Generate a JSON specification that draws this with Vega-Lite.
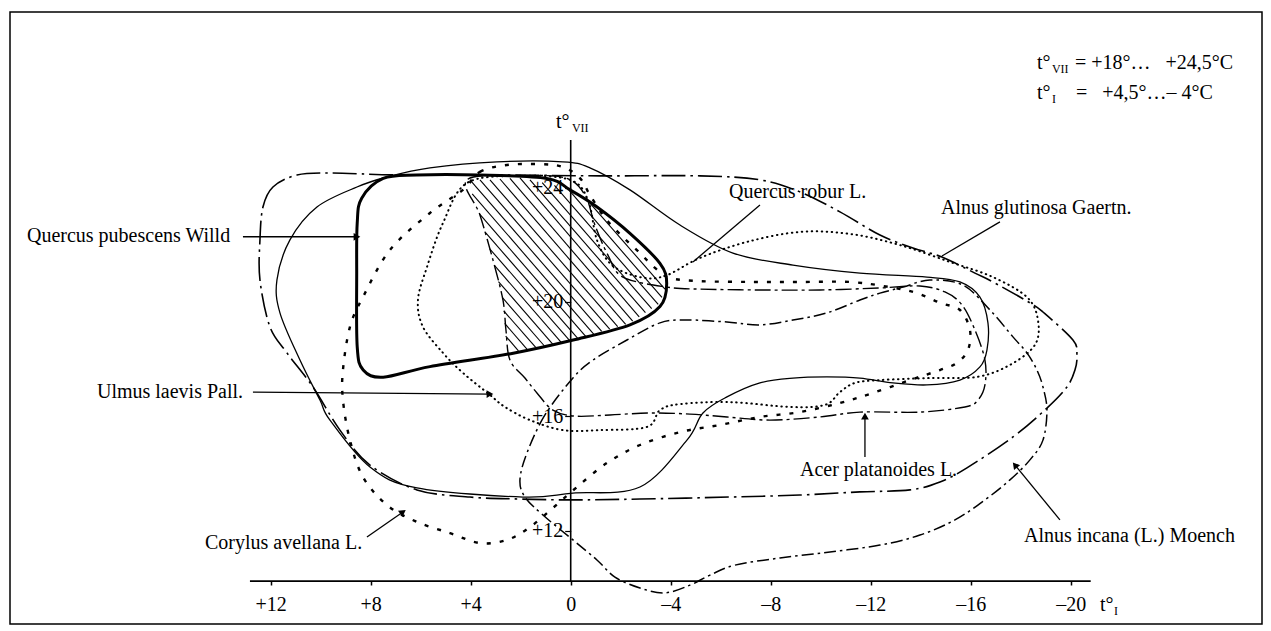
{
  "$schema": "https://vega.github.io/schema/vega-lite/v6.json",
  "width": 1252,
  "height": 612,
  "autosize": "none",
  "padding": {"left": 10, "top": 12, "right": 9, "bottom": 7},
  "background": "white",
  "config": {"view": {"stroke": "black", "strokeWidth": 1.5}, "font": "Liberation Serif"},
  "datasets": {
    "qp": [
      {"i":0,"tI":8.36,"tVII":23.63},{"i":1,"tI":7.50,"tVII":24.32},{"i":2,"tI":6.16,"tVII":24.44},{"i":3,"tI":3.63,"tVII":24.44},
      {"i":4,"tI":0.96,"tVII":24.32},{"i":5,"tI":0.03,"tVII":23.92},{"i":6,"tI":-1.04,"tVII":23.33},{"i":7,"tI":-2.37,"tVII":22.40},
      {"i":8,"tI":-3.57,"tVII":21.35},{"i":9,"tI":-3.84,"tVII":20.65},{"i":10,"tI":-3.57,"tVII":19.84},{"i":11,"tI":-2.37,"tVII":19.20},
      {"i":12,"tI":-0.10,"tVII":18.67},{"i":13,"tI":2.30,"tVII":18.21},{"i":14,"tI":5.63,"tVII":17.74},{"i":15,"tI":7.50,"tVII":17.37},
      {"i":16,"tI":8.30,"tVII":17.62},{"i":17,"tI":8.54,"tVII":18.44},{"i":18,"tI":8.56,"tVII":21.00},{"i":19,"tI":8.54,"tVII":22.75}
    ],
    "qr": [
      {"i":0,"tI":10.03,"tVII":16.57},{"i":1,"tI":10.83,"tVII":17.97},{"i":2,"tI":11.63,"tVII":19.62},{"i":3,"tI":11.75,"tVII":20.77},
      {"i":4,"tI":11.23,"tVII":22.17},{"i":5,"tI":10.15,"tVII":23.32},{"i":6,"tI":8.55,"tVII":24.02},{"i":7,"tI":7.35,"tVII":24.37},
      {"i":8,"tI":5.63,"tVII":24.69},{"i":9,"tI":2.95,"tVII":24.90},{"i":10,"tI":0.31,"tVII":24.90},{"i":11,"tI":-0.77,"tVII":24.69},
      {"i":12,"tI":-2.37,"tVII":23.92},{"i":13,"tI":-4.37,"tVII":22.69},{"i":14,"tI":-6.49,"tVII":21.71},{"i":15,"tI":-8.89,"tVII":21.29},
      {"i":16,"tI":-11.57,"tVII":21.01},{"i":17,"tI":-14.25,"tVII":20.87},{"i":18,"tI":-15.57,"tVII":20.70},{"i":19,"tI":-16.37,"tVII":20.17},
      {"i":20,"tI":-16.69,"tVII":19.27},{"i":21,"tI":-16.65,"tVII":18.32},{"i":22,"tI":-16.37,"tVII":17.73},{"i":23,"tI":-15.57,"tVII":17.27},
      {"i":24,"tI":-14.25,"tVII":17.10},{"i":25,"tI":-12.89,"tVII":17.17},{"i":26,"tI":-11.57,"tVII":17.34},{"i":27,"tI":-10.25,"tVII":17.38},
      {"i":28,"tI":-8.89,"tVII":17.34},{"i":29,"tI":-7.57,"tVII":17.17},{"i":30,"tI":-6.25,"tVII":16.68},{"i":31,"tI":-5.29,"tVII":16.12},
      {"i":32,"tI":-4.65,"tVII":15.17},{"i":33,"tI":-2.77,"tVII":13.53},{"i":34,"tI":-0.09,"tVII":13.32},{"i":35,"tI":1.91,"tVII":13.18},
      {"i":36,"tI":6.15,"tVII":13.50},{"i":37,"tI":8.03,"tVII":14.23},{"i":38,"tI":9.63,"tVII":15.87}
    ],
    "ag": [
      {"i":0,"tI":10.95,"tVII":24.44},{"i":1,"tI":11.91,"tVII":24.02},{"i":2,"tI":12.31,"tVII":23.32},{"i":3,"tI":12.43,"tVII":22.17},
      {"i":4,"tI":12.43,"tVII":20.77},{"i":5,"tI":12.03,"tVII":19.13},{"i":6,"tI":11.35,"tVII":18.22},{"i":7,"tI":10.31,"tVII":17.03},
      {"i":8,"tI":9.23,"tVII":15.52},{"i":9,"tI":8.03,"tVII":14.30},{"i":10,"tI":6.15,"tVII":13.43},{"i":11,"tI":4.03,"tVII":13.18},
      {"i":12,"tI":2.03,"tVII":13.11},{"i":13,"tI":-0.09,"tVII":13.08},{"i":14,"tI":-2.77,"tVII":13.11},{"i":15,"tI":-6.37,"tVII":13.18},
      {"i":16,"tI":-9.17,"tVII":13.25},{"i":17,"tI":-11.57,"tVII":13.36},{"i":18,"tI":-13.57,"tVII":13.43},{"i":19,"tI":-14.77,"tVII":13.71},
      {"i":20,"tI":-15.85,"tVII":14.20},{"i":21,"tI":-17.69,"tVII":15.28},{"i":22,"tI":-19.05,"tVII":16.29},{"i":23,"tI":-19.85,"tVII":17.03},
      {"i":24,"tI":-20.17,"tVII":17.62},{"i":25,"tI":-20.25,"tVII":18.15},{"i":26,"tI":-20.09,"tVII":18.67},{"i":27,"tI":-18.89,"tVII":19.65},
      {"i":28,"tI":-18.37,"tVII":19.97},{"i":29,"tI":-16.89,"tVII":20.70},{"i":30,"tI":-16.17,"tVII":21.01},{"i":31,"tI":-14.85,"tVII":21.57},
      {"i":32,"tI":-13.69,"tVII":21.89},{"i":33,"tI":-12.37,"tVII":22.34},{"i":34,"tI":-10.77,"tVII":23.15},{"i":35,"tI":-9.17,"tVII":23.85},
      {"i":36,"tI":-7.57,"tVII":24.27},{"i":37,"tI":-5.17,"tVII":24.41},{"i":38,"tI":-1.17,"tVII":24.41},{"i":39,"tI":2.83,"tVII":24.44},
      {"i":40,"tI":6.83,"tVII":24.44},{"i":41,"tI":9.63,"tVII":24.51}
    ],
    "ai": [
      {"i":0,"tI":-0.09,"tVII":17.34},{"i":1,"tI":1.03,"tVII":16.05},{"i":2,"tI":1.75,"tVII":14.72},{"i":3,"tI":2.03,"tVII":13.78},
      {"i":4,"tI":1.83,"tVII":13.18},{"i":5,"tI":1.11,"tVII":12.55},{"i":6,"tI":-0.09,"tVII":11.68},{"i":7,"tI":-1.05,"tVII":10.98},
      {"i":8,"tI":-1.77,"tVII":10.38},{"i":9,"tI":-2.77,"tVII":10.00},{"i":10,"tI":-3.77,"tVII":9.83},{"i":11,"tI":-4.77,"tVII":10.10},
      {"i":12,"tI":-5.57,"tVII":10.45},{"i":13,"tI":-6.57,"tVII":10.80},{"i":14,"tI":-8.37,"tVII":11.05},{"i":15,"tI":-10.37,"tVII":11.26},
      {"i":16,"tI":-12.37,"tVII":11.50},{"i":17,"tI":-13.97,"tVII":11.85},{"i":18,"tI":-15.37,"tVII":12.38},{"i":19,"tI":-16.57,"tVII":13.08},
      {"i":20,"tI":-17.57,"tVII":13.78},{"i":21,"tI":-18.37,"tVII":14.48},{"i":22,"tI":-18.89,"tVII":15.17},{"i":23,"tI":-19.05,"tVII":16.22},
      {"i":24,"tI":-18.89,"tVII":17.03},{"i":25,"tI":-18.65,"tVII":17.62},{"i":26,"tI":-18.25,"tVII":18.22},{"i":27,"tI":-17.69,"tVII":18.78},
      {"i":28,"tI":-16.77,"tVII":19.72},{"i":29,"tI":-15.69,"tVII":20.59},{"i":30,"tI":-14.37,"tVII":20.77},{"i":31,"tI":-13.29,"tVII":20.52},
      {"i":32,"tI":-12.37,"tVII":20.31},{"i":33,"tI":-11.57,"tVII":20.07},{"i":34,"tI":-10.25,"tVII":19.62},{"i":35,"tI":-8.89,"tVII":19.37},
      {"i":36,"tI":-7.57,"tVII":19.20},{"i":37,"tI":-6.25,"tVII":19.30},{"i":38,"tI":-4.65,"tVII":19.37},{"i":39,"tI":-3.57,"tVII":19.27},
      {"i":40,"tI":-2.25,"tVII":18.67},{"i":41,"tI":-0.89,"tVII":17.97}
    ],
    "ul": [
      {"i":0,"tI":4.15,"tVII":24.16},{"i":1,"tI":2.03,"tVII":24.41},{"i":2,"tI":0.03,"tVII":24.27},{"i":3,"tI":-0.69,"tVII":23.57},
      {"i":4,"tI":-1.05,"tVII":22.17},{"i":5,"tI":-1.65,"tVII":21.29},{"i":6,"tI":-2.77,"tVII":20.87},{"i":7,"tI":-3.77,"tVII":20.91},
      {"i":8,"tI":-5.17,"tVII":21.54},{"i":9,"tI":-7.05,"tVII":22.10},{"i":10,"tI":-9.17,"tVII":22.45},{"i":11,"tI":-11.17,"tVII":22.38},
      {"i":12,"tI":-13.17,"tVII":21.99},{"i":13,"tI":-15.17,"tVII":21.40},{"i":14,"tI":-16.89,"tVII":20.87},{"i":15,"tI":-18.25,"tVII":20.17},
      {"i":16,"tI":-18.69,"tVII":19.37},{"i":17,"tI":-18.57,"tVII":18.50},{"i":18,"tI":-17.57,"tVII":17.80},{"i":19,"tI":-16.25,"tVII":17.38},
      {"i":20,"tI":-14.37,"tVII":17.34},{"i":21,"tI":-12.37,"tVII":17.27},{"i":22,"tI":-11.37,"tVII":17.17},{"i":23,"tI":-10.77,"tVII":16.85},
      {"i":24,"tI":-10.17,"tVII":16.40},{"i":25,"tI":-8.77,"tVII":16.33},{"i":26,"tI":-6.37,"tVII":16.50},{"i":27,"tI":-4.37,"tVII":16.43},
      {"i":28,"tI":-3.57,"tVII":16.22},{"i":29,"tI":-3.05,"tVII":15.63},{"i":30,"tI":-1.17,"tVII":15.52},{"i":31,"tI":0.31,"tVII":15.52},
      {"i":32,"tI":1.63,"tVII":15.87},{"i":33,"tI":2.63,"tVII":16.33},{"i":34,"tI":3.23,"tVII":16.75},{"i":35,"tI":4.31,"tVII":17.52},
      {"i":36,"tI":5.11,"tVII":18.22},{"i":37,"tI":5.91,"tVII":19.13},{"i":38,"tI":6.11,"tVII":20.07},{"i":39,"tI":5.75,"tVII":21.22},
      {"i":40,"tI":5.11,"tVII":22.76}
    ],
    "ca": [
      {"i":0,"tI":4.31,"tVII":23.92},{"i":1,"tI":3.63,"tVII":24.55},{"i":2,"tI":2.55,"tVII":24.79},{"i":3,"tI":1.23,"tVII":24.82},
      {"i":4,"tI":0.31,"tVII":24.72},{"i":5,"tI":-0.37,"tVII":24.33},{"i":6,"tI":-0.77,"tVII":23.74},{"i":7,"tI":-1.37,"tVII":22.94},
      {"i":8,"tI":-2.09,"tVII":22.27},{"i":9,"tI":-2.77,"tVII":21.71},{"i":10,"tI":-3.37,"tVII":21.19},{"i":11,"tI":-3.97,"tVII":20.84},
      {"i":12,"tI":-5.17,"tVII":20.73},{"i":13,"tI":-7.17,"tVII":20.70},{"i":14,"tI":-9.17,"tVII":20.70},{"i":15,"tI":-11.17,"tVII":20.70},
      {"i":16,"tI":-12.77,"tVII":20.52},{"i":17,"tI":-13.85,"tVII":20.31},{"i":18,"tI":-14.77,"tVII":19.97},{"i":19,"tI":-15.57,"tVII":19.72},
      {"i":20,"tI":-15.97,"tVII":19.02},{"i":21,"tI":-15.89,"tVII":18.32},{"i":22,"tI":-15.45,"tVII":17.87},{"i":23,"tI":-14.77,"tVII":17.62},
      {"i":24,"tI":-13.57,"tVII":17.27},{"i":25,"tI":-12.09,"tVII":16.82},{"i":26,"tI":-10.77,"tVII":16.47},{"i":27,"tI":-9.17,"tVII":16.15},
      {"i":28,"tI":-7.57,"tVII":15.98},{"i":29,"tI":-5.97,"tVII":15.70},{"i":30,"tI":-4.37,"tVII":15.45},{"i":31,"tI":-2.77,"tVII":15.00},
      {"i":32,"tI":-1.45,"tVII":14.37},{"i":33,"tI":-0.25,"tVII":13.53},{"i":34,"tI":0.71,"tVII":12.80},{"i":35,"tI":1.63,"tVII":12.13},
      {"i":36,"tI":2.55,"tVII":11.68},{"i":37,"tI":3.63,"tVII":11.57},{"i":38,"tI":4.83,"tVII":11.92},{"i":39,"tI":6.15,"tVII":12.31},
      {"i":40,"tI":7.35,"tVII":12.90},{"i":41,"tI":8.31,"tVII":13.88},{"i":42,"tI":8.83,"tVII":15.17},{"i":43,"tI":9.11,"tVII":16.57},
      {"i":44,"tI":9.11,"tVII":17.62},{"i":45,"tI":8.83,"tVII":19.13},{"i":46,"tI":8.31,"tVII":20.17},{"i":47,"tI":7.23,"tVII":21.82},
      {"i":48,"tI":5.63,"tVII":23.11}
    ],
    "ap": [
      {"i":0,"tI":4.15,"tVII":24.27},{"i":1,"tI":2.03,"tVII":24.41},{"i":2,"tI":0.23,"tVII":24.34},{"i":3,"tI":-0.57,"tVII":23.74},
      {"i":4,"tI":-0.97,"tVII":22.69},{"i":5,"tI":-1.49,"tVII":21.64},{"i":6,"tI":-2.09,"tVII":20.87},{"i":7,"tI":-3.85,"tVII":20.52},
      {"i":8,"tI":-5.17,"tVII":20.45},{"i":9,"tI":-7.57,"tVII":20.42},{"i":10,"tI":-9.97,"tVII":20.42},{"i":11,"tI":-12.37,"tVII":20.49},
      {"i":12,"tI":-13.97,"tVII":20.56},{"i":13,"tI":-14.97,"tVII":20.35},{"i":14,"tI":-15.65,"tVII":19.90},{"i":15,"tI":-16.17,"tVII":19.02},
      {"i":16,"tI":-16.57,"tVII":17.97},{"i":17,"tI":-16.57,"tVII":17.10},{"i":18,"tI":-16.29,"tVII":16.57},{"i":19,"tI":-15.77,"tVII":16.33},
      {"i":20,"tI":-13.97,"tVII":16.15},{"i":21,"tI":-11.57,"tVII":16.15},{"i":22,"tI":-9.97,"tVII":15.98},{"i":23,"tI":-7.97,"tVII":15.87},
      {"i":24,"tI":-6.25,"tVII":15.98},{"i":25,"tI":-4.77,"tVII":16.08},{"i":26,"tI":-3.17,"tVII":16.12},{"i":27,"tI":-1.57,"tVII":16.05},
      {"i":28,"tI":-0.17,"tVII":16.01},{"i":29,"tI":0.71,"tVII":16.22},{"i":30,"tI":1.35,"tVII":16.82},{"i":31,"tI":1.83,"tVII":17.34},
      {"i":32,"tI":2.43,"tVII":17.97},{"i":33,"tI":2.59,"tVII":19.02},{"i":34,"tI":2.71,"tVII":20.07},{"i":35,"tI":3.11,"tVII":21.47},
      {"i":36,"tI":3.63,"tVII":23.04}
    ],
    "hatch": [
      {"tI":2.60,"tVII":18.81,"tI2":2.09,"tVII2":18.29},{"tI":2.64,"tVII":19.25,"tI2":1.75,"tVII2":18.35},
      {"tI":2.68,"tVII":19.69,"tI2":1.40,"tVII2":18.41},{"tI":2.73,"tVII":20.15,"tI2":1.06,"tVII2":18.47},
      {"tI":2.89,"tVII":20.71,"tI2":0.72,"tVII2":18.53},{"tI":3.05,"tVII":21.28,"tI2":0.38,"tVII2":18.59},
      {"tI":3.24,"tVII":21.86,"tI2":0.04,"tVII2":18.65},{"tI":3.44,"tVII":22.46,"tI2":-0.29,"tVII2":18.72},
      {"tI":3.64,"tVII":23.07,"tI2":-0.60,"tVII2":18.80},{"tI":3.94,"tVII":23.78,"tI2":-0.92,"tVII2":18.88},
      {"tI":4.03,"tVII":24.27,"tI2":-1.24,"tVII2":18.97},{"tI":3.63,"tVII":24.27,"tI2":-1.56,"tVII2":19.05},
      {"tI":3.23,"tVII":24.27,"tI2":-1.88,"tVII2":19.14},{"tI":2.83,"tVII":24.30,"tI2":-2.20,"tVII2":19.22},
      {"tI":2.43,"tVII":24.32,"tI2":-2.48,"tVII2":19.33},{"tI":2.03,"tVII":24.34,"tI2":-2.74,"tVII2":19.48},
      {"tI":1.63,"tVII":24.27,"tI2":-2.99,"tVII2":19.63},{"tI":1.14,"tVII":24.17,"tI2":-3.24,"tVII2":19.77},
      {"tI":0.65,"tVII":24.08,"tI2":-3.50,"tVII2":19.92},{"tI":0.05,"tVII":23.89,"tI2":-3.65,"tVII2":20.16},
      {"tI":-0.77,"tVII":23.46,"tI2":-3.77,"tVII2":20.45}
    ],
    "leaders": [
      {"name":"qp","tI":13.11,"tVII":22.28,"tI2":8.55,"tVII2":22.28},
      {"name":"qr","tI":-7.57,"tVII":23.39,"tI2":-4.89,"tVII2":21.40},
      {"name":"ag","tI":-17.17,"tVII":22.80,"tI2":-14.85,"tVII2":21.61},
      {"name":"ul","tI":12.71,"tVII":16.85,"tI2":3.23,"tVII2":16.78},
      {"name":"ca","tI":8.15,"tVII":11.78,"tI2":6.71,"tVII2":12.66},
      {"name":"ap","tI":-11.77,"tVII":14.58,"tI2":-11.77,"tVII2":16.01},
      {"name":"ai","tI":-19.57,"tVII":12.38,"tI2":-17.77,"tVII2":14.30}
    ],
    "arrows": [
      {"name":"qp","tI":8.55,"tVII":22.28},
      {"name":"ul","tI":3.23,"tVII":16.78},
      {"name":"ca","tI":6.71,"tVII":12.66},
      {"name":"ap","tI":-11.77,"tVII":16.01},
      {"name":"ai","tI":-17.77,"tVII":14.30}
    ],
    "axislines": [
      {"tI":12.83,"tVII":10.24,"tI2":-20.8,"tVII2":10.24},
      {"tI":0,"tVII":10.24,"tI2":0,"tVII2":25.66}
    ],
    "labels": [
      {"text":"Quercus pubescens Willd","tI":21.75,"tVII":22.31},
      {"text":"Quercus robur L.","tI":-6.33,"tVII":23.85},
      {"text":"Alnus glutinosa Gaertn.","tI":-14.81,"tVII":23.29},
      {"text":"Ulmus laevis Pall.","tI":18.95,"tVII":16.85},
      {"text":"Corylus avellana L.","tI":14.63,"tVII":11.57},
      {"text":"Acer platanoides L.","tI":-9.17,"tVII":14.13},
      {"text":"Alnus incana (L.) Moench","tI":-18.13,"tVII":11.82},
      {"text":"t°","tI":-18.65,"tVII":28.36},
      {"text":"= +18°…\u00a0\u00a0\u00a0+24,5°C","tI":-20.17,"tVII":28.36},
      {"text":"t°","tI":-18.65,"tVII":27.31},
      {"text":"=\u00a0\u00a0\u00a0+4,5°…– 4°C","tI":-20.21,"tVII":27.31},
      {"text":"t°","tI":0.59,"tVII":26.29},
      {"text":"t°","tI":-21.17,"tVII":9.41}
    ],
    "subs": [
      {"text":"VII","tI":-19.25,"tVII":28.16},
      {"text":"I","tI":-19.25,"tVII":27.11},
      {"text":"VII","tI":-0.05,"tVII":26.08},
      {"text":"I","tI":-21.73,"tVII":9.21}
    ]
  },
  "encoding": {
    "x": {"field": "tI", "type": "quantitative",
      "scale": {"domain": [22.428, -27.652], "nice": false, "zero": false},
      "axis": {"orient": "bottom", "offset": -43, "domain": false, "grid": false, "title": null,
        "values": [12, 8, 4, 0, -4, -8, -12, -16, -20], "tickSize": 4, "tickColor": "black", "tickWidth": 1.5,
        "labelExpr": "datum.value > 0 ? '+' + datum.value : (datum.value < 0 ? '–' + abs(datum.value) : '0')",
        "labelFont": "Liberation Serif", "labelFontSize": 20, "labelColor": "black", "labelPadding": 9,
        "labelOverlap": false, "labelFlush": false}},
    "y": {"field": "tVII", "type": "quantitative",
      "scale": {"domain": [8.741, 30.139], "nice": false, "zero": false},
      "axis": {"orient": "left", "offset": -560.7, "domain": false, "grid": false, "title": null,
        "values": [12, 16, 20, 24], "tickSize": 6, "tickColor": "black", "tickWidth": 1.2,
        "labelExpr": "'+' + datum.value",
        "labelFont": "Liberation Serif", "labelFontSize": 20, "labelColor": "black", "labelPadding": 2,
        "labelOverlap": false, "labelFlush": false}}
  },
  "layer": [
    {"data": {"name": "hatch"}, "mark": {"type": "rule", "stroke": "black", "strokeWidth": 1.1},
      "encoding": {"x2": {"field": "tI2"}, "y2": {"field": "tVII2"}}},
    {"data": {"name": "axislines"}, "mark": {"type": "rule", "stroke": "black", "strokeWidth": 1.6},
      "encoding": {"x2": {"field": "tI2"}, "y2": {"field": "tVII2"}}},
    {"data": {"name": "ag"}, "mark": {"type": "line", "interpolate": "cardinal-closed", "tension": 0, "stroke": "black", "strokeWidth": 1.6, "strokeDash": [24, 5, 2.5, 5]},
      "encoding": {"order": {"field": "i", "type": "quantitative"}}},
    {"data": {"name": "ai"}, "mark": {"type": "line", "interpolate": "cardinal-closed", "tension": 0, "stroke": "black", "strokeWidth": 1.5, "strokeDash": [12, 4, 2.5, 4]},
      "encoding": {"order": {"field": "i", "type": "quantitative"}}},
    {"data": {"name": "ul"}, "mark": {"type": "line", "interpolate": "cardinal-closed", "tension": 0, "stroke": "black", "strokeWidth": 2, "strokeDash": [0.5, 4.5], "strokeCap": "round"},
      "encoding": {"order": {"field": "i", "type": "quantitative"}}},
    {"data": {"name": "ca"}, "mark": {"type": "line", "interpolate": "cardinal-closed", "tension": 0, "stroke": "black", "strokeWidth": 2.4, "strokeDash": [4, 9]},
      "encoding": {"order": {"field": "i", "type": "quantitative"}}},
    {"data": {"name": "ap"}, "mark": {"type": "line", "interpolate": "cardinal-closed", "tension": 0, "stroke": "black", "strokeWidth": 1.4, "strokeDash": [16, 4, 3, 4]},
      "encoding": {"order": {"field": "i", "type": "quantitative"}}},
    {"data": {"name": "qr"}, "mark": {"type": "line", "interpolate": "cardinal-closed", "tension": 0, "stroke": "black", "strokeWidth": 1.3},
      "encoding": {"order": {"field": "i", "type": "quantitative"}}},
    {"data": {"name": "qp"}, "mark": {"type": "line", "interpolate": "cardinal-closed", "tension": 0, "stroke": "black", "strokeWidth": 3},
      "encoding": {"order": {"field": "i", "type": "quantitative"}}},
    {"data": {"name": "leaders"}, "mark": {"type": "rule", "stroke": "black", "strokeWidth": 1.3},
      "encoding": {"x2": {"field": "tI2"}, "y2": {"field": "tVII2"}}},
    {"data": {"name": "arrows"}, "transform": [{"filter": "datum.name === 'qp' || datum.name === 'ul'"}],
      "mark": {"type": "point", "shape": "triangle-right", "filled": true, "color": "black", "size": 60, "opacity": 1}},
    {"data": {"name": "arrows"}, "transform": [{"filter": "datum.name === 'ca'"}],
      "mark": {"type": "point", "shape": "triangle-right", "filled": true, "color": "black", "size": 60, "opacity": 1, "angle": 325}},
    {"data": {"name": "arrows"}, "transform": [{"filter": "datum.name === 'ap'"}],
      "mark": {"type": "point", "shape": "triangle-right", "filled": true, "color": "black", "size": 60, "opacity": 1, "angle": 270}},
    {"data": {"name": "arrows"}, "transform": [{"filter": "datum.name === 'ai'"}],
      "mark": {"type": "point", "shape": "triangle-right", "filled": true, "color": "black", "size": 60, "opacity": 1, "angle": 231}},
    {"data": {"name": "labels"}, "mark": {"type": "text", "align": "left", "baseline": "middle", "font": "Liberation Serif", "fontSize": 20, "color": "black"},
      "encoding": {"text": {"field": "text"}}},
    {"data": {"name": "subs"}, "mark": {"type": "text", "align": "left", "baseline": "middle", "font": "Liberation Serif", "fontSize": 12, "color": "black"},
      "encoding": {"text": {"field": "text"}}}
  ]
}
